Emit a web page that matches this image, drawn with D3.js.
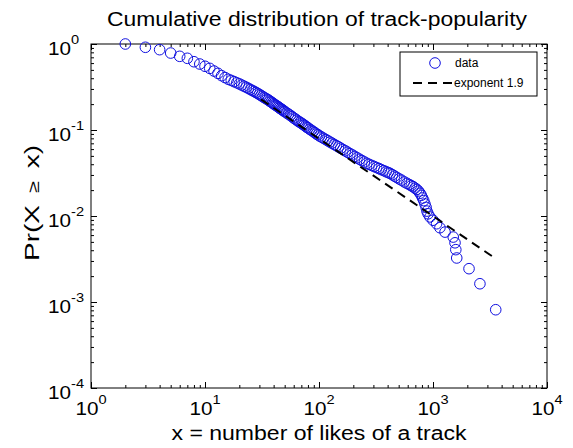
<!DOCTYPE html>
<html><head><meta charset="utf-8">
<script src="https://cdn.jsdelivr.net/npm/d3@7"></script>
<style>body{margin:0;background:#fff}svg{display:block}text{font-family:"Liberation Sans",Arial,sans-serif;fill:#000}</style>
</head><body><div id="chart"></div>
<script>
// ---- data ----
const likesX = [2,3,4,5,6,7,8,9,10,11,12,13,14,15,16,17,18,19,20,21,22,23,24,25,26,27,28,29,30,
 31,32,33,34,35,36,37,38,39,40,41,42,43,44,45,46,47,48,49,50,52,54,56,58,60,62,64,66,68,70,72,74,76,78,80,
 83,86,89,92,95,98,101,105,110,115,120,125,130,136,142,148,155,162,170,178,187,196,206,216,227,238,250,262,
 275,290,305,320,336,352,370,388,405,420,440,460,481,505,530,560,590,620,645,670,695,720,745,770,790,810,830,
 850,870,885,905,940,1000,1075,1150,1275,1505,1560,1585,1615,2070,2580,3550];
const probY = [1.0,0.916,0.859,0.785,0.719,0.682,0.622,0.585,0.551,0.521,0.485,0.456,0.428,0.407,0.389,0.377,0.365,0.354,0.344,0.333,0.323,0.314,0.305,0.296,0.288,0.281,0.273,0.266,0.259,
 0.252,0.245,0.239,0.233,0.228,0.223,0.217,0.212,0.207,0.202,0.197,0.193,0.189,0.185,0.181,0.177,0.174,0.171,0.167,0.164,0.158,0.153,0.148,0.143,0.138,0.134,0.130,0.126,0.123,0.120,0.117,0.114,0.111,0.108,0.106,
 0.102,0.099,0.096,0.093,0.090,0.088,0.0853,0.0830,0.0800,0.0773,0.0748,0.0724,0.0703,0.0679,0.0658,0.0637,0.0614,0.0593,0.0573,0.0552,0.0531,0.0513,0.0493,0.0475,0.0457,0.0441,0.0425,0.0410,
 0.0399,0.0387,0.0376,0.0366,0.0356,0.0346,0.0337,0.0327,0.0320,0.0313,0.0302,0.0291,0.0281,0.0270,0.0261,0.0249,0.0240,0.0232,0.0225,0.0219,0.0211,0.0204,0.0195,0.0184,0.0174,0.0162,0.0151,
 0.0138,0.0126,0.0114,0.0106,0.00975,0.00893,0.00813,0.00731,0.0065,0.00569,0.00488,0.00406,0.00325,0.00244,0.00163,0.000813];
const fitX = [31, 3550];
const fitY = [0.2274, 0.00319];
const xTickVals = [1,10,100,1000,10000];
const xTickExp = ["0","1","2","3","4"];
const yTickVals = [1,0.1,0.01,0.001,0.0001];
const yTickExp = ["0","-1","-2","-3","-4"];
const titleText = "Cumulative distribution of track-popularity";
const xLabelText = "x = number of likes of a track";
const yLabelParts = ["Pr(X", "\u2265", "x)"];
const legendLabels = ["data","exponent 1.9"];

// ---- layout ----
const W = 573, H = 448;
const L = 91, R = 547, T = 44, B = 388;
const SX = 1.17;
const svg = d3.select("#chart").append("svg").attr("width", W).attr("height", H);
svg.append("rect").attr("width", W).attr("height", H).attr("fill", "#fff");

const x = d3.scaleLog().domain([1, 1e4]).range([L, R]);
const y = d3.scaleLog().domain([1e-4, 1]).range([B, T]);

function minors(lo, hi) {
  const out = [];
  for (let e = lo; e < hi; e++) for (let m = 2; m <= 9; m++) out.push(m * Math.pow(10, e));
  return out;
}
const xMinor = minors(0, 4), yMinor = minors(-4, 0);

function addAxis(gen, scale, vals, size, tr) {
  const g = svg.append("g").attr("transform", tr)
    .call(gen(scale).tickValues(vals).tickSize(-size).tickSizeOuter(0).tickFormat(""));
  g.select(".domain").remove();
  g.selectAll(".tick line").attr("stroke", "#000").attr("stroke-width", 1);
  return g;
}
addAxis(d3.axisBottom, x, xTickVals, 6, `translate(0,${B})`);
addAxis(d3.axisBottom, x, xMinor, 3, `translate(0,${B})`);
addAxis(d3.axisTop, x, xTickVals, 6, `translate(0,${T})`);
addAxis(d3.axisTop, x, xMinor, 3, `translate(0,${T})`);
addAxis(d3.axisLeft, y, yTickVals, 6, `translate(${L},0)`);
addAxis(d3.axisLeft, y, yMinor, 3, `translate(${L},0)`);
addAxis(d3.axisRight, y, yTickVals, 6, `translate(${R},0)`);
addAxis(d3.axisRight, y, yMinor, 3, `translate(${R},0)`);

svg.append("rect").attr("x", L).attr("y", T).attr("width", R - L).attr("height", B - T)
  .attr("fill", "none").attr("stroke", "#000").attr("stroke-width", 1);

// data circles
svg.append("g").selectAll("circle.pt").data(likesX.map((d, i) => [d, probY[i]])).join("circle")
  .attr("class", "pt").attr("cx", d => x(d[0])).attr("cy", d => y(d[1])).attr("r", 5.3)
  .attr("fill", "none").attr("stroke", "#1010e0").attr("stroke-width", 1);

// fit line
svg.append("path").datum(fitX.map((d, i) => [d, fitY[i]]))
  .attr("d", d3.line().x(d => x(d[0])).y(d => y(d[1])))
  .attr("fill", "none").attr("stroke", "#000").attr("stroke-width", 2).attr("stroke-dasharray", "9,6");

// tick labels
xTickVals.forEach((v, i) => {
  const t = svg.append("g").attr("transform", `translate(${x(v)},415) scale(${SX},1)`)
    .append("text").attr("text-anchor", "middle").style("font-size", "17.7px");
  t.append("tspan").text("10");
  t.append("tspan").attr("dy", -11).style("font-size", "12.5px").text(xTickExp[i]);
});
yTickVals.forEach((v, i) => {
  const t = svg.append("g").attr("transform", `translate(48,${y(v) + 11}) scale(${SX},1)`)
    .append("text").attr("text-anchor", "start").style("font-size", "17.7px");
  t.append("tspan").text("10");
  t.append("tspan").attr("dy", -11).style("font-size", "12.5px").text(yTickExp[i]);
});

// title and axis labels
svg.append("text").attr("x", 317).attr("y", 26).attr("text-anchor", "middle")
  .style("font-size", "19.5px").attr("textLength", 420).attr("lengthAdjust", "spacingAndGlyphs").text(titleText);
svg.append("text").attr("x", 319).attr("y", 440).attr("text-anchor", "middle")
  .style("font-size", "19.5px").attr("textLength", 295).attr("lengthAdjust", "spacingAndGlyphs").text(xLabelText);
const yl = svg.append("text").attr("transform", "translate(39,203) rotate(-90)").attr("text-anchor", "middle")
  .style("font-size", "20.5px").attr("textLength", 116).attr("lengthAdjust", "spacingAndGlyphs");
yl.append("tspan").text(yLabelParts[0]);
yl.append("tspan").attr("dx", 9).style("font-size", "16px").text(yLabelParts[1]);
yl.append("tspan").attr("dx", 9).text(yLabelParts[2]);

// legend
const lg = svg.append("g");
lg.append("rect").attr("x", 400).attr("y", 52).attr("width", 137).attr("height", 44)
  .attr("fill", "#fff").attr("stroke", "#000").attr("stroke-width", 1);
lg.append("circle").attr("cx", 435).attr("cy", 63).attr("r", 5.3)
  .attr("fill", "none").attr("stroke", "#1010e0").attr("stroke-width", 1);
lg.append("text").attr("x", 455).attr("y", 67).style("font-size", "12px").text(legendLabels[0]);
lg.append("line").attr("x1", 413).attr("x2", 452).attr("y1", 83).attr("y2", 83)
  .attr("stroke", "#000").attr("stroke-width", 2).attr("stroke-dasharray", "9,6");
lg.append("text").attr("x", 454).attr("y", 87).style("font-size", "12px").text(legendLabels[1]);
</script></body></html>
